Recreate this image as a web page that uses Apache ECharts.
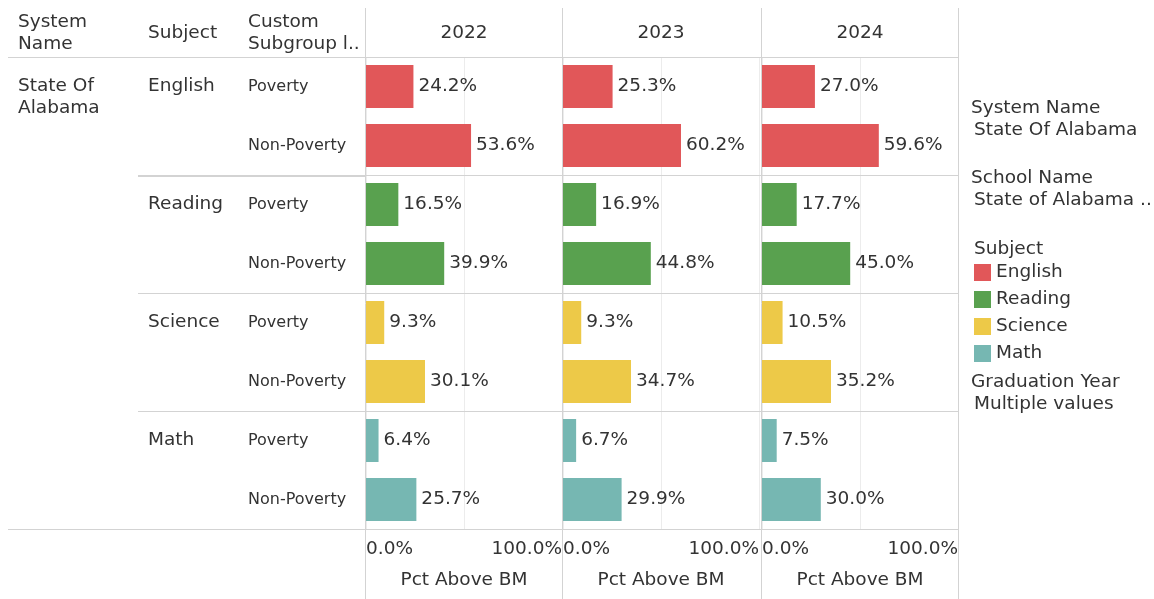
<!DOCTYPE html>
<html>
<head>
<meta charset="utf-8">
<script src="https://cdn.jsdelivr.net/npm/echarts@6/dist/echarts.min.js"></script>
<style>
html, body { margin: 0; background: #ffffff; }
#main { width: 1154px; height: 599px; }
</style>
</head>
<body>
<div id="main"></div>
<script>
// data
var years = ['2022', '2023', '2024']
var subjects = ['English', 'Reading', 'Science', 'Math']
var subgroups = ['Poverty', 'Non-Poverty']
var subjectColors = ['#E15759', '#59A14F', '#EDC948', '#76B7B2']
var pct2022 = [24.2, 53.6, 16.5, 39.9, 9.3, 30.1, 6.4, 25.7]
var pct2023 = [25.3, 60.2, 16.9, 44.8, 9.3, 34.7, 6.7, 29.9]
var pct2024 = [27.0, 59.6, 17.7, 45.0, 10.5, 35.2, 7.5, 30.0]
var tickLabels = [0, 100]

var pctByYear = [pct2022, pct2023, pct2024]
var rows = []
subjects.forEach(function (s) {
  subgroups.forEach(function (g) { rows.push(s + '|' + g) })
})

// layout
var font = 'DejaVu Sans'
var fs = 18.5
var textColor = '#333333'
var lineColor = '#d3d3d3'
var panelLeft = [366, 563, 762]
var panelWidth = 196
var gridTop = 57
var gridBottom = 529
var rowH = (gridBottom - gridTop) / rows.length

var chart = echarts.init(document.getElementById('main'))

function txt(x, y, text, size, align, vAlign, lh) {
  return {
    type: 'text', x: x, y: y, z: 10,
    style: {
      text: text, fontSize: size, fontFamily: font, fill: textColor,
      align: align || 'left', verticalAlign: vAlign || 'middle', lineHeight: lh || size
    }
  }
}
function line(x1, y1, x2, y2, w) {
  return {
    type: 'line', z: 5, silent: true,
    shape: { x1: x1, y1: y1, x2: x2, y2: y2 },
    style: { stroke: lineColor, lineWidth: w || 1 }
  }
}

var graphics = []
// table header
graphics.push(txt(18, 11, 'System\nName', fs, 'left', 'top', 22))
graphics.push(txt(148, 33, 'Subject', fs))
graphics.push(txt(248, 11, 'Custom\nSubgroup l..', fs, 'left', 'top', 22))
years.forEach(function (y, i) {
  graphics.push(txt(panelLeft[i] + panelWidth / 2, 33, y, fs, 'center'))
})
graphics.push(txt(18, 75, 'State Of\nAlabama', fs, 'left', 'top', 22))
subjects.forEach(function (s, i) {
  graphics.push(txt(148, gridTop + (i * 2 + 0.5) * rowH, s, fs))
})
// filters panel
graphics.push(txt(971, 108, 'System Name', fs))
graphics.push(txt(974, 130, 'State Of Alabama', fs))
graphics.push(txt(971, 178, 'School Name', fs))
graphics.push(txt(974, 200, 'State of Alabama ..', fs))
graphics.push(txt(974, 249, 'Subject', fs))
graphics.push(txt(971, 382, 'Graduation Year', fs))
graphics.push(txt(974, 404, 'Multiple values', fs))

// rules
;[365.5, 562.5, 761.5, 958.5].forEach(function (x) {
  graphics.push(line(x, 8, x, 599))
})
graphics.push(line(8, gridTop + 0.5, 958, gridTop + 0.5))
graphics.push(line(8, gridBottom + 0.5, 958, gridBottom + 0.5))
for (var k = 1; k < subjects.length; k++) {
  var yy = Math.round(gridTop + k * 2 * rowH) + 0.5
  graphics.push(line(138, yy, 958, yy))
}
graphics.push(line(138, 176, 365, 176, 2))

var grids = [], xAxes = [], yAxes = [], series = []
years.forEach(function (y, i) {
  grids.push({ left: panelLeft[i], width: panelWidth, top: gridTop, height: gridBottom - gridTop, outerBoundsMode: 'none' })
  xAxes.push({
    type: 'value', gridIndex: i, min: 0, max: 100, interval: 50,
    axisLine: { show: false }, axisTick: { show: false },
    splitLine: { show: true, lineStyle: { color: '#ececec', width: 1 } },
    axisLabel: {
      fontSize: fs, fontFamily: font, color: textColor, margin: 11,
      alignMinLabel: 'left', alignMaxLabel: 'right',
      formatter: function (v) { return tickLabels.indexOf(v) >= 0 ? v.toFixed(1) + '%' : '' }
    },
    name: 'Pct Above BM', nameLocation: 'middle', nameGap: 42,
    nameTextStyle: { fontSize: fs, fontFamily: font, color: textColor }
  })
  yAxes.push({
    type: 'category', gridIndex: i, data: rows, inverse: true,
    axisLine: { show: false }, axisTick: { show: false }, splitLine: { show: false },
    axisLabel: {
      show: i === 0, align: 'left', margin: 118, fontSize: 16, fontFamily: font, color: textColor,
      formatter: function (v) { return v.split('|')[1] }
    }
  })
  subjects.forEach(function (s, si) {
    series.push({
      type: 'bar', name: s, xAxisIndex: i, yAxisIndex: i,
      barWidth: 43, barGap: '-100%',
      itemStyle: { color: subjectColors[si] },
      data: pctByYear[i].map(function (v, r) { return Math.floor(r / 2) === si ? v : '-' }),
      label: {
        show: true, position: 'right', distance: 5,
        fontSize: fs, fontFamily: font, color: textColor,
        formatter: function (p) { return p.value.toFixed(1) + '%' }
      }
    })
  })
})

chart.setOption({
  animation: false,
  textStyle: { fontFamily: font },
  grid: grids,
  xAxis: xAxes,
  yAxis: yAxes,
  legend: {
    data: subjects, orient: 'vertical', left: 974, top: 263, padding: 0,
    icon: 'rect', itemWidth: 17, itemHeight: 17, itemGap: 8, selectedMode: false,
    textStyle: { fontSize: fs, fontFamily: font, color: textColor }
  },
  graphic: graphics,
  series: series
})
</script>
</body>
</html>
